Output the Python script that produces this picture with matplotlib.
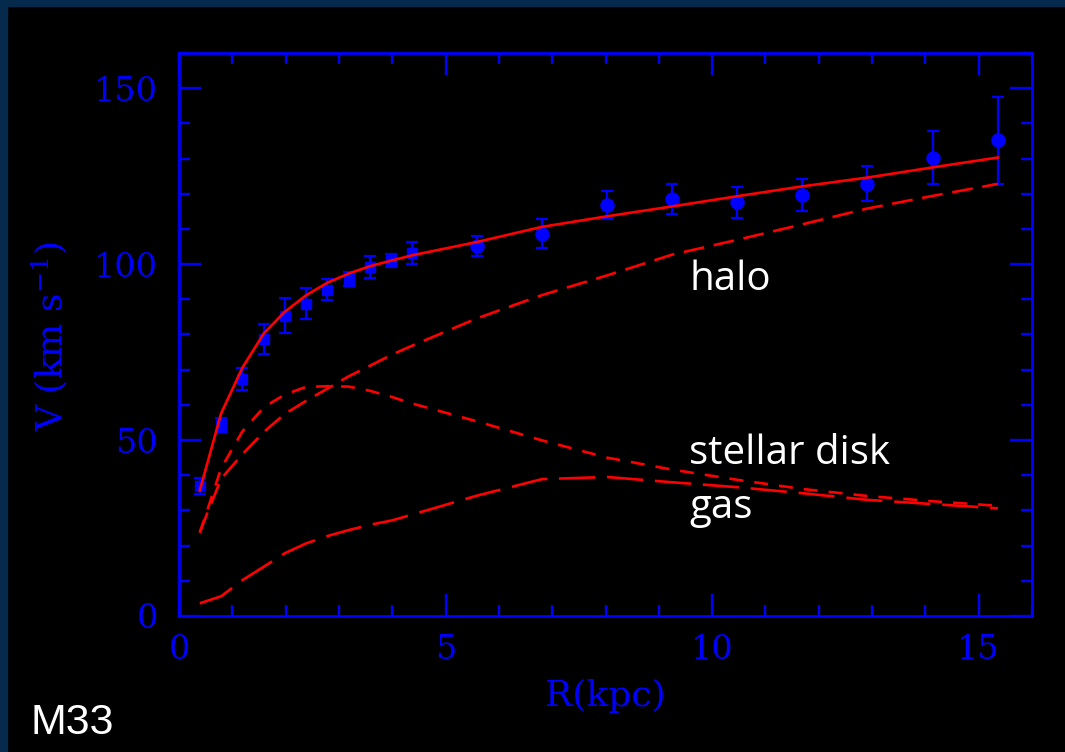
import numpy as np
import matplotlib.pyplot as plt
from matplotlib.patches import Rectangle

# curva de rotação da M33: dados observados e modelo de massa

# raios internos (quadrados) e externos (círculos), kpc
r_in = [0.39, 0.79, 1.19, 1.59, 1.98, 2.38, 2.78, 3.18, 3.58, 3.98, 4.37]
v_in = [36.9, 54.4, 67.3, 78.8, 85.3, 88.8, 92.7, 95.9, 99.2, 101.0, 103.2]
e_in = [2.3, 2.0, 3.2, 4.3, 5.0, 4.5, 3.0, 2.0, 3.2, 1.9, 3.2]

r_out = [5.59, 6.81, 8.03, 9.25, 10.47, 11.69, 12.91, 14.14, 15.36]
v_out = [105.1, 108.7, 116.7, 118.6, 117.6, 119.6, 122.8, 130.3, 135.2]
e_out = [2.9, 4.2, 4.0, 4.3, 4.4, 4.5, 5.0, 7.5, 12.4]

# componentes do modelo nos mesmos raios
r_mod = r_in + r_out
v_total = [35.7, 57.6, 70.6, 80.3, 86.4, 91.1, 94.7, 97.3, 99.4, 101.0, 102.5,
           106.3, 110.6, 113.6, 116.4, 119.3, 122.1, 124.6, 127.5, 130.3]
v_halo = [23.9, 39.0, 46.0, 52.3, 57.4, 61.1, 64.6, 68.1, 71.1, 74.2, 76.8,
          84.6, 91.2, 96.8, 102.7, 106.9, 111.3, 115.8, 119.4, 122.8]
v_disk = [23.6, 42.0, 52.5, 59.3, 62.9, 65.1, 65.3, 65.2, 64.0, 62.3, 60.4,
          55.3, 49.9, 45.0, 41.6, 38.7, 36.1, 34.1, 32.6, 31.3]
v_gas = [3.6, 5.6, 10.2, 14.0, 17.8, 20.6, 22.7, 24.4, 25.9, 27.1, 28.8,
         34.2, 38.9, 39.5, 38.0, 36.6, 34.9, 33.0, 31.8, 30.6]

azul = '#0000ff'
verm = '#ff0000'

plt.rcParams['mathtext.fontset'] = 'dejavuserif'
plt.rcParams['lines.scale_dashes'] = False

fig = plt.figure(figsize=(10.65, 7.52), dpi=100, facecolor='black')

# moldura azul escura à esquerda e no topo
fig.patches.append(Rectangle((0, 0), 7/1065, 1, transform=fig.transFigure,
                             color='#062a4b', zorder=0))
fig.patches.append(Rectangle((0, 1 - 6/752), 1, 6/752, transform=fig.transFigure,
                             color='#062a4b', zorder=0))

ax = fig.add_axes([0.1681, 0.1809, 0.8009, 0.7486])
ax.set_facecolor('black')

# pontos com barras de erro
ax.errorbar(r_in, v_in, yerr=e_in, fmt='s', color=azul, ms=7.5,
            elinewidth=1.6, capsize=4.5, capthick=1.6, zorder=3)
ax.errorbar(r_out, v_out, yerr=e_out, fmt='o', color=azul, ms=9.4,
            elinewidth=1.6, capsize=4.5, capthick=1.6, zorder=3)

# modelo
ax.plot(r_mod, v_total, color=verm, lw=1.9, zorder=4)
ax.plot(r_mod, v_halo, color=verm, lw=1.9, dashes=(15, 7), zorder=4)
ax.plot(r_mod, v_disk, color=verm, lw=1.9, dashes=(10, 8), zorder=4)
ax.plot(r_mod, v_gas, color=verm, lw=1.9, dashes=(26, 8.6), zorder=4)

ax.text(9.57, 92.6, 'halo', color='white', fontsize=29, family='Open Sans',
        va='baseline')
ax.text(9.57, 43.3, 'stellar disk', color='white', fontsize=29,
        family='Open Sans', va='baseline')
ax.text(9.57, 27.8, 'gas', color='white', fontsize=29, family='Open Sans',
        va='baseline')

# eixos
ax.set_xlim(0, 16)
ax.set_ylim(0, 160)
ax.set_xticks(np.arange(0, 16, 5))
ax.set_xticks(np.arange(0, 17, 1), minor=True)
ax.set_yticks(np.arange(0, 160, 50))
ax.set_yticks(np.arange(0, 161, 10), minor=True)

for s in ax.spines.values():
    s.set_color(azul)
    s.set_linewidth(2.0)

ax.tick_params(which='both', direction='in', top=True, right=True,
               color=azul, width=1.7)
ax.tick_params(which='major', length=16)
ax.tick_params(which='minor', length=8)
ax.tick_params(axis='x', which='major', pad=13)
ax.tick_params(axis='y', which='major', pad=15)

for lab in ax.get_xticklabels() + ax.get_yticklabels():
    lab.set_family('DejaVu Serif')
    lab.set_fontsize(24)
    lab.set_color(azul)

ax.set_xlabel('R(kpc)', family='DejaVu Serif', fontsize=26, color=azul)
ax.set_ylabel('V (km s$^{-1}$)', family='DejaVu Serif', fontsize=26,
              color=azul)
ax.xaxis.set_label_coords(0.5, -0.112)
ax.yaxis.set_label_coords(-0.128, 0.497)

fig.text(30/1065, 1 - 734/752, 'M33', color='white', fontsize=31,
         family='Liberation Sans', va='baseline')

fig.savefig('out.png', dpi=100, facecolor='black')
